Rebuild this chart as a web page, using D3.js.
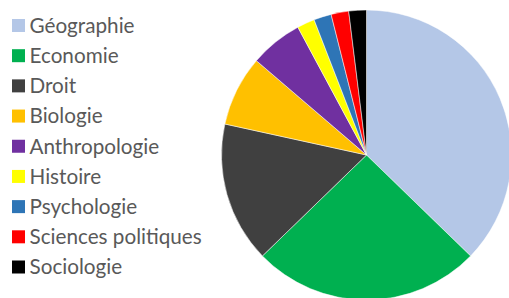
<!DOCTYPE html>
<html>
<head>
<meta charset="utf-8">
<script src="https://cdn.jsdelivr.net/npm/d3@7"></script>
<style>
  body { margin: 0; background: #fff; }
  .legendLabel { font-family: Lato, "Open Sans", sans-serif; font-size: 20.7px; fill: #595959; }
</style>
</head>
<body>
<svg id="chart"></svg>
<script>
const categories = [
  "Géographie",
  "Economie",
  "Droit",
  "Biologie",
  "Anthropologie",
  "Histoire",
  "Psychologie",
  "Sciences politiques",
  "Sociologie",
];
const values = [19, 13, 8, 4, 3, 1, 1, 1, 1];
const colorList = [
  "#b4c7e7",
  "#00b050",
  "#404040",
  "#ffc000",
  "#7030a0",
  "#ffff00",
  "#2e75b6",
  "#ff0000",
  "#000000",
];

const width = 509;
const height = 298;
const radius = 145;
const center = { x: 366.5, y: 155 };

const svg = d3.select("#chart").attr("width", width).attr("height", height);

const data = categories.map((c, i) => ({ category: c, value: values[i], color: colorList[i] }));

const pie = d3.pie().sort(null).value((d) => d.value);
const arc = d3.arc().innerRadius(0).outerRadius(radius);

svg
  .append("g")
  .attr("transform", `translate(${center.x},${center.y})`)
  .selectAll("path")
  .data(pie(data))
  .join("path")
  .attr("d", arc)
  .attr("fill", (d) => d.data.color)
  .attr("stroke", "#fff")
  .attr("stroke-width", 0.5);

// legend
const legendY = d3.scalePoint().domain(categories).range([25.5, 267]);

const legend = svg
  .append("g")
  .selectAll("g")
  .data(data)
  .join("g")
  .attr("transform", (d) => `translate(12,${legendY(d.category)})`);

legend
  .append("rect")
  .attr("x", 0)
  .attr("y", -6.5)
  .attr("width", 13)
  .attr("height", 13)
  .attr("fill", (d) => d.color);

legend
  .append("text")
  .attr("class", "legendLabel")
  .attr("x", 17.5)
  .attr("y", 0)
  .attr("dy", "0.35em")
  .text((d) => d.category);
</script>
</body>
</html>
